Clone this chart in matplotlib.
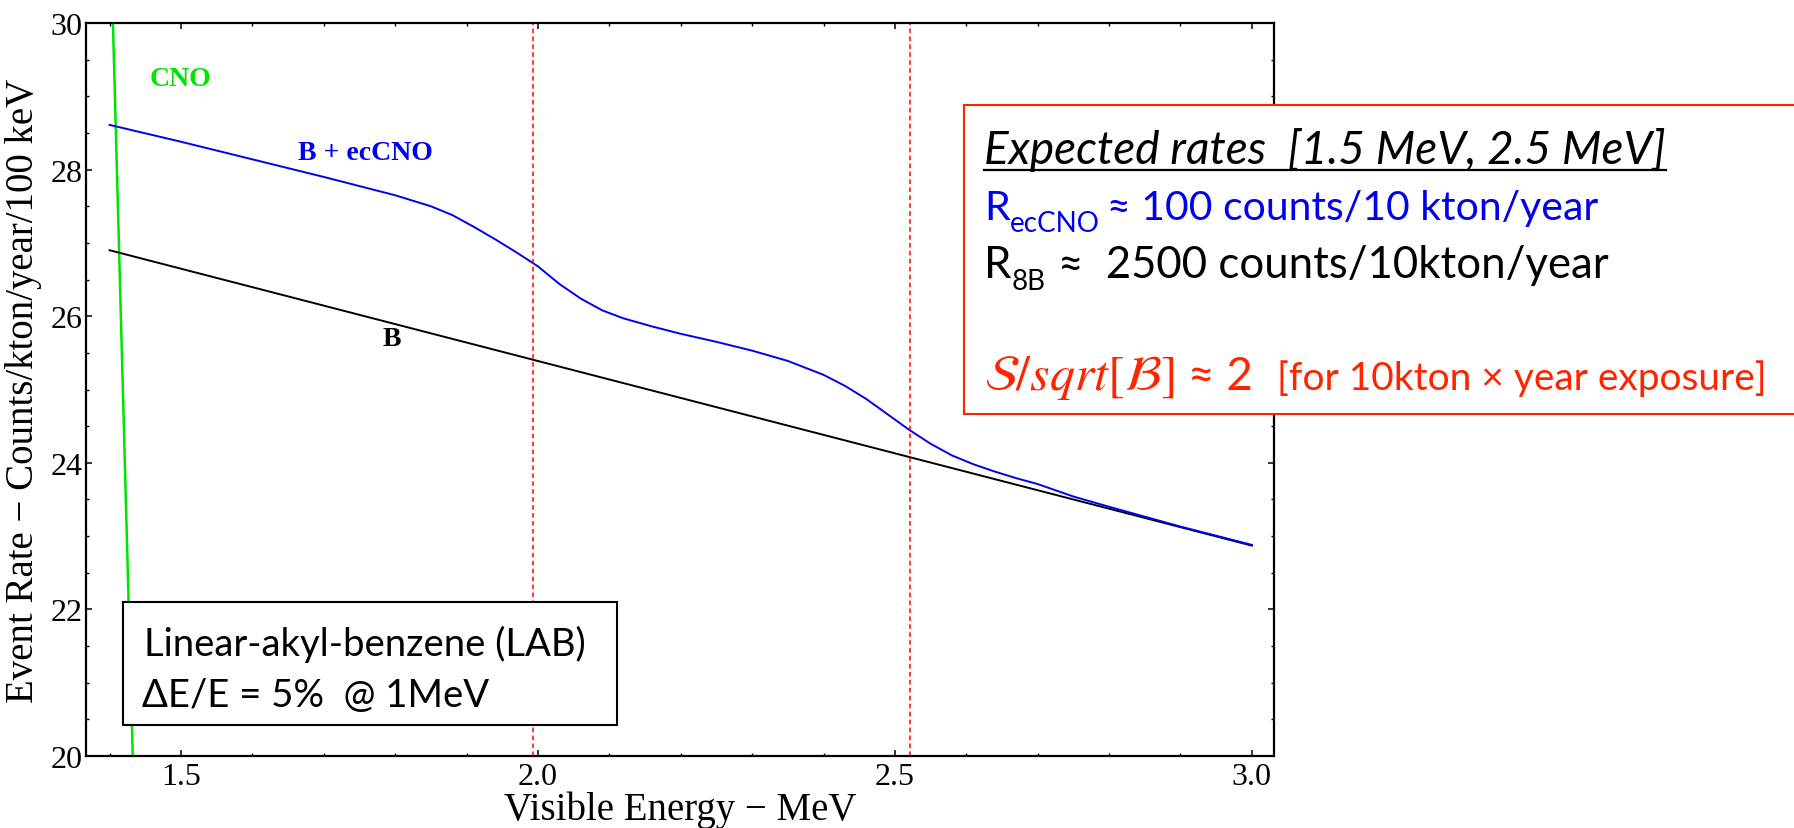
import matplotlib
matplotlib.use("Agg")
import matplotlib.pyplot as plt
from matplotlib.ticker import MultipleLocator, FixedLocator
from matplotlib.patches import Rectangle
from matplotlib.lines import Line2D

# ---------------------------------------------------------------- data
energy_b = [1.40, 3.00]
rate_b = [26.90, 22.87]

energy_sum = [1.40, 1.50, 1.60, 1.70, 1.80, 1.85, 1.88, 1.91, 1.94, 1.97,
              2.00, 2.03, 2.06, 2.09, 2.12, 2.16, 2.20, 2.25, 2.30, 2.35,
              2.40, 2.43, 2.46, 2.49, 2.52, 2.55, 2.58, 2.61, 2.64, 2.67,
              2.70, 2.75, 2.80, 2.90, 3.00]
rate_sum = [28.61, 28.38, 28.14, 27.90, 27.65, 27.50, 27.38, 27.22, 27.05, 26.87,
            26.68, 26.44, 26.24, 26.08, 25.97, 25.86, 25.76, 25.65, 25.53, 25.39,
            25.20, 25.05, 24.87, 24.66, 24.45, 24.26, 24.10, 23.98, 23.88, 23.79,
            23.71, 23.54, 23.40, 23.13, 22.88]

energy_cno = [1.400, 1.410, 1.420, 1.430, 1.440]
rate_cno = [31.7, 28.1, 24.5, 20.9, 17.3]

window_edges = [1.993, 2.521]

x_ticks = [1.5, 2.0, 2.5, 3.0]
y_ticks = [20, 22, 24, 26, 28, 30]
x_range = (1.367, 3.031)
y_range = (20, 30)

# ---------------------------------------------------------------- styling
W, H, DPI = 1794, 829, 100
SERIF = "Liberation Serif"
SANS = "Lato"
GREEN = "#00e400"
BLUE = "#0000f0"
RED = "#ff2400"


def fx(px):
    return px / W


def fy(py):
    return 1 - py / H


fig = plt.figure(figsize=(W / DPI, H / DPI), dpi=DPI)
fig.patch.set_facecolor("white")
ax = fig.add_axes([fx(86), fy(757), (1274 - 86) / W, (757 - 24) / H])

ax.plot(energy_cno, rate_cno, color=GREEN, lw=1.8, solid_capstyle="butt")
ax.plot(energy_b, rate_b, color="black", lw=1.4)
ax.plot(energy_sum, rate_sum, color=BLUE, lw=1.4, solid_joinstyle="round")
for xe in window_edges:
    ax.axvline(xe, color="#ff0000", lw=1.1, ls=(0, (3, 2.2)))

ax.set_xlim(*x_range)
ax.set_ylim(*y_range)
ax.xaxis.set_major_locator(FixedLocator(x_ticks))
ax.xaxis.set_minor_locator(MultipleLocator(0.1))
ax.yaxis.set_major_locator(FixedLocator(y_ticks))
ax.yaxis.set_minor_locator(MultipleLocator(0.5))
ax.set_xticklabels([f"{v:.1f}" for v in x_ticks])
ax.set_yticklabels([f"{v:d}" for v in y_ticks])
ax.tick_params(which="both", direction="in", top=True, right=True,
               colors="black")
ax.tick_params(which="major", length=4.0, width=1.1, labelsize=23, pad=4)
ax.tick_params(which="minor", length=2.2, width=1.0)
ax.tick_params(axis="y", which="major", pad=2.5)
for lab in ax.get_xticklabels() + ax.get_yticklabels():
    lab.set_fontfamily(SERIF)
for sp in ax.spines.values():
    sp.set_linewidth(1.6)

ax.set_xlabel("Visible Energy \u2212 MeV", fontsize=28, family=SERIF, labelpad=0)
ax.set_ylabel("Event Rate \u2212 Counts/kton/year/100 keV", fontsize=28,
              family=SERIF, labelpad=6)

ax.text(1.50, 29.24, "CNO", color=GREEN, fontsize=20, family=SERIF,
        fontweight="bold", ha="center", va="center")
ax.text(1.759, 28.24, "B + ecCNO", color=BLUE, fontsize=20, family=SERIF,
        fontweight="bold", ha="center", va="center")
ax.text(1.796, 25.69, "B", color="black", fontsize=20, family=SERIF,
        fontweight="bold", ha="center", va="center")

# ---------------------------------------------------------------- detector box
fig.add_artist(Rectangle((fx(123), fy(726)), (617 - 123) / W, (726 - 603) / H,
                         transform=fig.transFigure, facecolor="white",
                         edgecolor="black", lw=1.5, zorder=5))
fig.text(fx(144), fy(656), "Linear-akyl-benzene (LAB)", fontsize=27.5,
         family=SANS, va="baseline", ha="left", zorder=6)
fig.text(fx(142), fy(707), "\u0394E/E = 5%  @ 1MeV", fontsize=27.5,
         family=SANS, va="baseline", ha="left", zorder=6)

# ---------------------------------------------------------------- rate box
fig.add_artist(Rectangle((fx(964), fy(415)), (1830 - 964) / W, (415 - 106) / H,
                         transform=fig.transFigure, facecolor="white",
                         edgecolor=RED, lw=1.5, zorder=5))

renderer = fig.canvas.get_renderer()


def text_run(x0, baseline, pieces):
    """Draw text pieces one after another on a common baseline."""
    x = x0
    for s, kw, dy, gap in pieces:
        t = fig.text(fx(x), fy(baseline + dy), s, va="baseline", ha="left",
                     zorder=6, **kw)
        bb = t.get_window_extent(renderer=renderer)
        x += bb.width + gap
    return x


x_end = text_run(984, 164, [("Expected rates  [1.5 MeV, 2.5 MeV]",
                             dict(family=SANS, fontsize=33, style="italic",
                                  color="black"), 0, 0)])
fig.add_artist(Line2D([fx(984), fx(x_end)], [fy(171), fy(171)],
                      transform=fig.transFigure, color="black", lw=1.6,
                      zorder=6))

text_run(984, 220, [("R", dict(family=SANS, fontsize=29.5, color=BLUE), 0, 0),
                    ("ecCNO", dict(family=SANS, fontsize=20, color=BLUE), 12, 7),
                    ("\u2248 100 counts/10 kton/year",
                     dict(family=SANS, fontsize=29.5, color=BLUE), 0, 0)])

text_run(984, 278, [("R", dict(family=SANS, fontsize=31.5, color="black"), 0, 0),
                    ("8B", dict(family=SANS, fontsize=20, color="black"), 12, 12),
                    ("\u2248  2500 counts/10kton/year",
                     dict(family=SANS, fontsize=31.5, color="black"), 0, 0)])

text_run(984, 390, [(r"$\mathcal{S}/\mathit{sqrt}[\mathcal{B}]$",
                     dict(fontsize=36, color=RED, math_fontfamily="stix"), 0, 14),
                    ("\u2248 2", dict(family=SANS, fontsize=33, color=RED), 0, 24),
                    ("[for 10kton \u00d7 year exposure]",
                     dict(family=SANS, fontsize=28, color=RED), 0, 0)])

fig.savefig("out.png", dpi=DPI, facecolor="white")
